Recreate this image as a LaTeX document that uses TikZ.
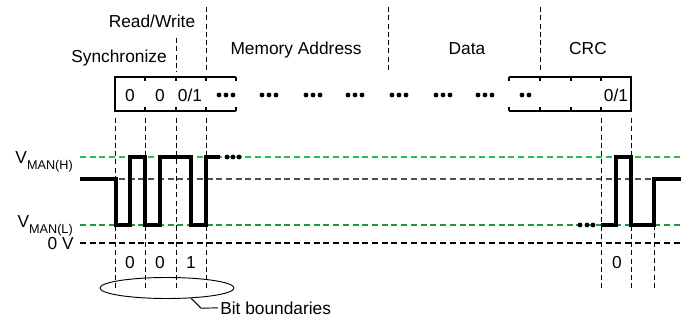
\documentclass[tikz,border=0pt]{standalone}
\usepackage{fontspec}
\setmainfont{Liberation Sans}
\usepackage{tikz}
\usetikzlibrary{calc}
\usetikzlibrary{shapes.geometric}
\definecolor{levelhigh}{RGB}{40,190,80}
\definecolor{levellow}{RGB}{30,150,60}
\definecolor{levelmid}{RGB}{80,80,80}
\newcommand{\vman}[1]{V\raisebox{-0.38em}{\fontsize{9.5}{10}\selectfont #1}}
\tikzset{
  reg/.style={black, line width=0.9pt},
  bound/.style={black, line width=0.7pt, dash pattern=on 3.8pt off 2.4pt},
  level/.style={line width=0.9pt, dash pattern=on 4.5pt off 2.8pt},
  signal/.style={black, line width=2.6pt, line join=miter},
  lbl/.style={inner sep=0pt, anchor=base},
}

\begin{document}
\begin{tikzpicture} [x=0.75pt, y=-0.75pt, font=\fontsize{13}{15}\selectfont]
\useasboundingbox (0,0) rectangle (681,321);
% field labels
\node[lbl] (rw) at (152,28) {Read/Write};
\node[lbl] (sync) at (119,63) {Synchronize};
\node[lbl] (addr) at (296,55) {Memory Address};
\node[lbl] (data) at (467,55) {Data};
\node[lbl] (crc) at (588,55) {CRC};
\draw[bound] (176,38)--(176,72);
\foreach \x in {206,388,540} {
  \draw[bound] (\x,7)--(\x,72);
}
% register
\draw[reg] (236,77)--(115,77)--(115,111)--(236,111);
\draw[reg] (509,77)--(631,77)--(631,111)--(509,111);
\foreach \x in {145,176,206,236,509,540,571,601} {
  \draw[reg] (\x,77)--++(0,4);
  \draw[reg] (\x,111)--++(0,-4);
}
\foreach \x/\t [count=\i] in {130/0,160/0,190/{0/1},616/{0/1}} {
  \node[lbl] (bit\i) at (\x,101) {\t};
}
\foreach \x in {226,269,313,355,399,443,485} {
  \foreach \d in {-7,0,7} \fill (\x+\d,95) circle (2.4);
}
\fill (522,95) circle (2.4) (529,95) circle (2.4);
% voltage levels
\draw[level, levelhigh] (80,157)--(681,157);
\draw[level, levelmid] (80,179)--(681,179);
\draw[level, levellow] (80,225)--(681,225);
\draw[level, black] (80,243)--(681,243);
\node[inner sep=0pt, anchor=base east] (vhigh) at (73,163) {\vman{MAN(H)}};
\node[inner sep=0pt, anchor=base east] (vlow) at (73,227) {\vman{MAN(L)}};
\node[inner sep=0pt, anchor=base east] (vzero) at (74,249) {0 V};
% bit boundaries
\foreach \x in {115,145,176,206,601,631} {
  \draw[bound] (\x,118)--(\x,288);
}
\draw[bound] (654,225)--(654,288);
\foreach \x/\t [count=\i] in {130/0,160/0,191/1,617/0} {
  \node[lbl] (val\i) at (\x,268) {\t};
}
\node[draw, ellipse, line width=0.7pt, inner sep=0pt, minimum width=100.5pt, minimum height=15.75pt] (bounds) at (167,288) {};
\node[inner sep=0pt, anchor=base west] (bitlbl) at (220,314) {Bit boundaries};
\draw[line width=0.7pt] (bounds.-23)--++(10,10)--($(bitlbl.west)+(-2,0)$);
% signal
\draw[signal] (80,179)--(116,179)--(116,225)--(130,225)--(130,157)--(145,157)--(145,225)--(160,225)--(160,157)
  --(191,157)--(191,225)--(206,225)--(206,157)--(220,157);
\foreach \x in {227,233,239} \fill (\x,157) circle (2.4);
\foreach \x in {580,587,593} \fill (\x,225) circle (2.4);
\draw[signal] (601,225)--(616,225)--(616,157)--(631,157)--(631,225)--(654,225)--(654,179)--(681,179);
\end{tikzpicture}
\end{document}
